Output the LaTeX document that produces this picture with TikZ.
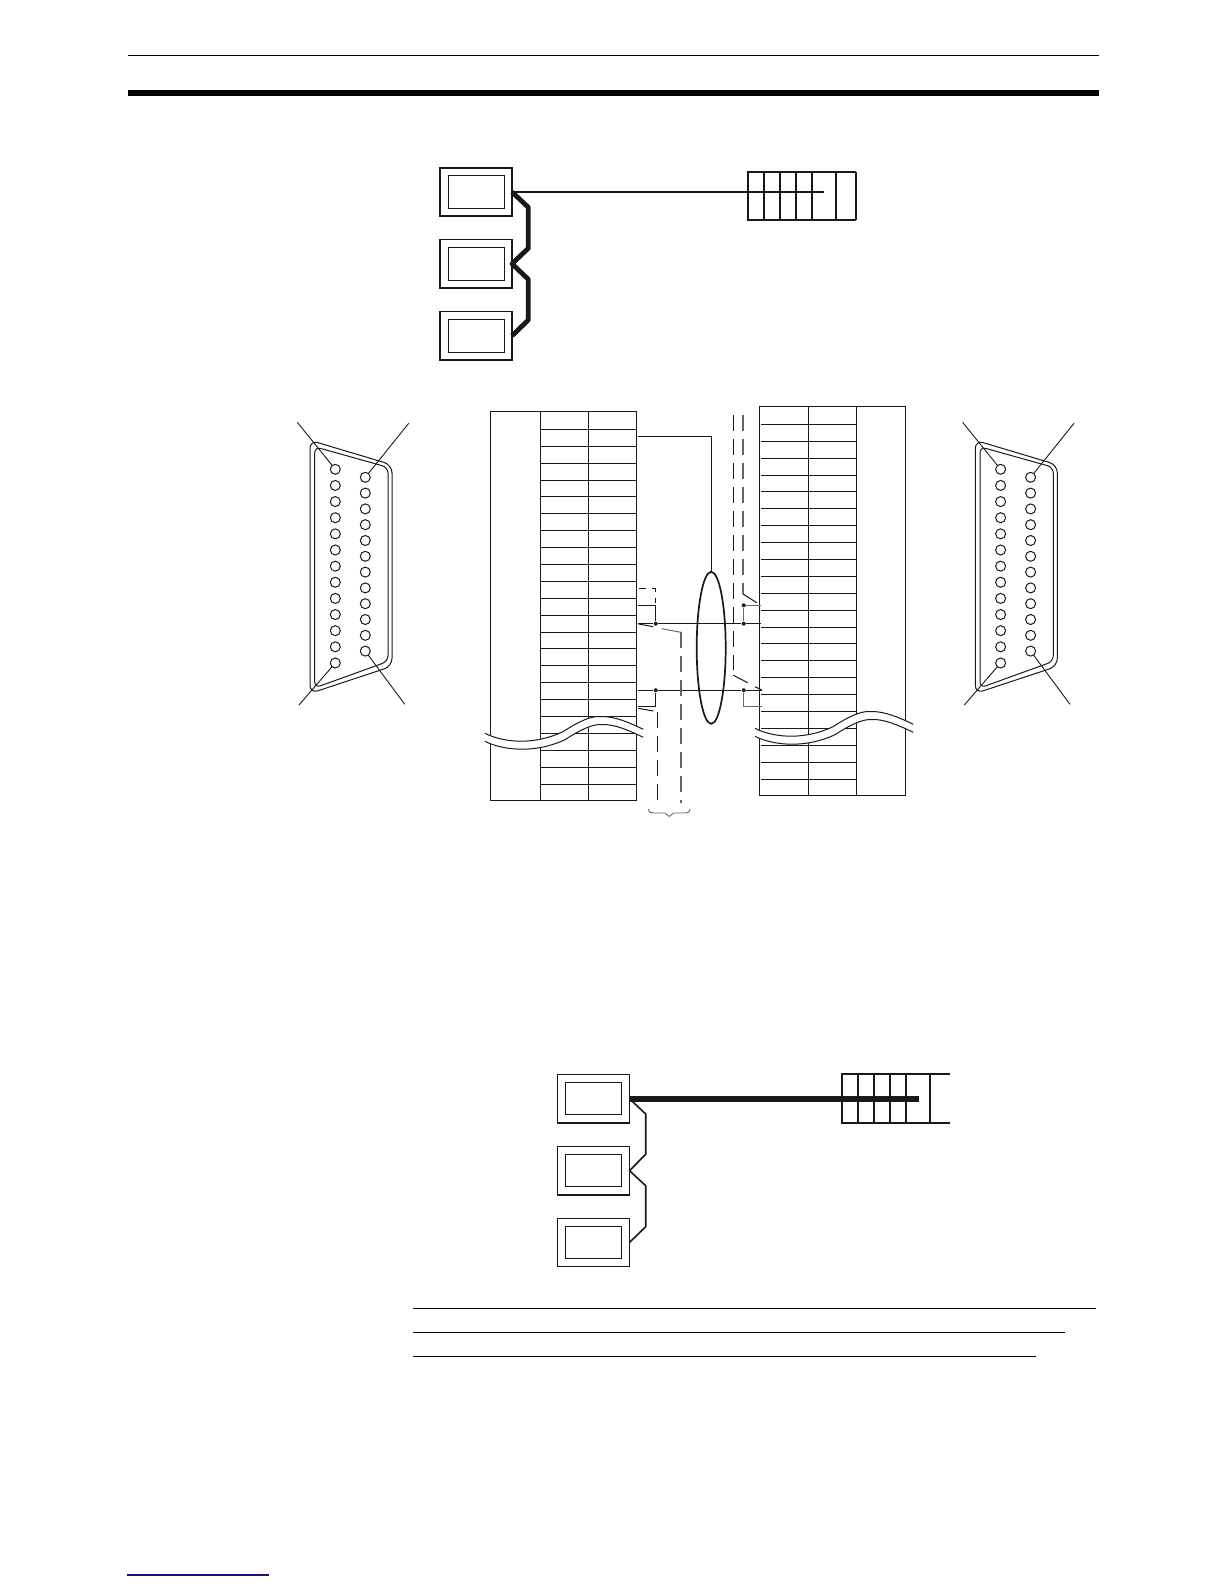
\documentclass[tikz,border=0pt]{standalone}
\usetikzlibrary{calc,shapes.geometric}
\definecolor{linkblue}{RGB}{20,20,120}
\definecolor{wire}{gray}{0.1}
\definecolor{wiregray}{gray}{0.4}
\newcommand{\shellshape}{%
  \draw[shell,rounded corners=4pt] (310,440.3) -- (392,464.8) -- (392,666.3) -- (310,693.4) -- cycle;
  \draw[shell,rounded corners=3pt] (314.7,446.8) -- (388,467.3) -- (388,661.4) -- (314.7,687.9) -- cycle;
}
\newcommand{\wavecut}{%
  \fill[white] (485,733.3) .. controls (500,741) and (530,747) .. (563,731.7)
     .. controls (578,722) and (590,716) .. (600,716.5) .. controls (615,716) and (630,723) .. (643.3,729.3)
     -- (643.3,737.3) .. controls (630,731) and (615,724) .. (602,724.5)
     .. controls (592,724) and (580,730) .. (565,739.7) .. controls (532,755) and (500,749) .. (485,741.3) -- cycle;
  \draw[waveline] (485,733.3) .. controls (500,741) and (530,747) .. (563,731.7)
     .. controls (578,722) and (590,716) .. (600,716.5) .. controls (615,716) and (630,723) .. (643.3,729.3);
  \draw[waveline] (485,741.3) .. controls (500,749) and (532,755) .. (565,739.7)
     .. controls (580,730) and (592,724) .. (602,724.5) .. controls (615,724) and (630,731) .. (643.3,737.3);
}
\tikzset{
  unit/.style={draw=wire,line width=0.75pt,inner sep=0pt,outer sep=0pt,minimum width=36pt,minimum height=24.2pt},
  screen/.style={draw=wire,line width=0.5pt,inner sep=0pt,outer sep=0pt,minimum width=28pt,minimum height=16.2pt},
  grid line/.style={draw=wire,line width=0.85pt},
  table line/.style={draw=wire,line width=0.55pt},
  thick cable/.style={draw=wire,line width=2.4pt,line join=round},
  thin cable/.style={draw=wire,line width=0.8pt,line join=round},
  fat cable/.style={draw=wire,line width=3pt},
  signal/.style={draw=wire,line width=0.5pt},
  shell/.style={draw=wire,line width=0.5pt},
  waveline/.style={draw=wire,line width=0.5pt},
  pinhole/.style={draw=wire,circle,line width=0.5pt,inner sep=0pt,outer sep=0pt,minimum size=5pt},
  leader/.style={draw=wire,line width=0.45pt},
  dot/.style={circle,fill=wire,inner sep=0pt,minimum size=2pt},
  longdash/.style={draw=wire,line width=0.5pt,dash pattern=on 8pt off 4pt},
  longdashgray/.style={draw=wiregray,line width=0.6pt,dash pattern=on 8pt off 4pt},
  rule/.style={draw=black,line width=0.65pt},
}
\begin{document}
\begin{tikzpicture}[x=0.5pt,y=-0.5pt]
\useasboundingbox (0,0) rectangle (1224,1584);
% page furniture
\coordinate (ra) at (128,55.3); \coordinate (rb) at (1099,55.3);
\coordinate (rc) at (128,93); \coordinate (rd) at (1099,93);
\draw[rule] (ra) -- (rb);
\draw[draw=black,line width=3pt] (rc) -- (rd);
\coordinate (n1a) at (413,1308.3); \coordinate (n1b) at (1096,1308.3);
\coordinate (n2a) at (413,1332.3); \coordinate (n2b) at (1065,1332.3);
\coordinate (n3a) at (413,1356.3); \coordinate (n3b) at (1036,1356.3);
\draw[rule] (n1a) -- (n1b);
\draw[rule] (n2a) -- (n2b);
\draw[rule] (n3a) -- (n3b);
\coordinate (fa) at (127,1575); \coordinate (fb) at (269,1575);
\draw[draw=linkblue,line width=0.7pt] (fa) -- (fb);

% top network
\foreach \n/\y in {1/192,2/263.8,3/335.8}{
  \node[unit] (t\n) at (476,\y) {};
  \node[screen] (ts\n) at (476.3,\y) {};
}
\foreach \x in {747.7,763.7,780,796,812.3,836,856}{
  \draw[grid line] (\x,171.7) -- (\x,220);
}
\draw[grid line] (747.3,171.7) -- (856.4,171.7);
\draw[grid line] (747.3,220) -- (856.4,220);
\coordinate (tend) at (824,192);
\draw[draw=wire,line width=0.8pt] (t1.east) -- (tend);
\draw[thick cable] (t1.east) -- (528.3,207.3) -- (528.3,248.3) -- (t2.east) -- (528.3,279.3) -- (528.3,320) -- (t3.east);

% left D-sub
\shellshape
\foreach \i in {0,...,12}{ \node[pinhole] (pa\i) at (335.3,469.3+16.14*\i) {}; }
\foreach \i in {0,...,11}{ \node[pinhole] (pb\i) at (365.3,477.3+15.8*\i) {}; }
\coordinate (la) at (297.3,422.3); \coordinate (lb) at (408.7,423.3);
\coordinate (lc) at (299,705); \coordinate (ld) at (404.7,704.3);
\draw[leader] (la) -- (pa0);
\draw[leader] (lb) -- (pb0);
\draw[leader] (lc) -- (pa12);
\draw[leader] (ld) -- (pb11);

% right D-sub
\begin{scope}[shift={(665.3,0)}]
\shellshape
\foreach \i in {0,...,12}{ \node[pinhole] (qa\i) at (335.3,469.3+16.14*\i) {}; }
\foreach \i in {0,...,11}{ \node[pinhole] (qb\i) at (365.3,477.3+15.8*\i) {}; }
\coordinate (ma) at (297.3,422.3); \coordinate (mb) at (408.7,423.3);
\coordinate (mc) at (299,705); \coordinate (md) at (404.7,704.3);
\draw[leader] (ma) -- (qa0);
\draw[leader] (mb) -- (qb0);
\draw[leader] (mc) -- (qa12);
\draw[leader] (md) -- (qb11);
\end{scope}

% left pin table
\draw[table line] (490.7,411.3) rectangle (636.3,800.3);
\draw[table line] (540.7,411.3) -- (540.7,800.3);
\draw[table line] (588.3,411.3) -- (588.3,800.3);
\foreach \y in {429.3,446.3,463.3,480.3,496.3,513.3,530.3,547.3,564.3,581.3,598.3,615.3,632.3,648.3,665.3,682.3,699.3,716.3,733.3,750.3,767.3,784.3}{
  \draw[table line] (540.7,\y) -- (636.3,\y);
}
\wavecut

% right pin table
\draw[table line] (759.7,406.3) rectangle (905.7,795.3);
\draw[table line] (808.3,406.3) -- (808.3,795.3);
\draw[table line] (856.3,406.3) -- (856.3,795.3);
\foreach \y in {424.3,441.3,458.3,475.3,491.3,508.3,525.3,542.3,559.3,576.3,593.3,610.3,627.3,643.3,660.3,677.3,694.3,711.3,728.3,745.3,762.3,779.3}{
  \draw[table line] (761,\y) -- (856.3,\y);
}
\begin{scope}[shift={(270,-5)}]
\wavecut
\end{scope}

% shield ellipse
\node[draw=wire,ellipse,line width=0.85pt,inner sep=0pt,outer sep=0pt,minimum width=14.5pt,minimum height=76pt] (shieldloop) at (711.2,647.8) {};

% shield wire
\coordinate (sa) at (638.3,436.3);
\draw[signal] (sa) -- (711.2,436.3) -- (shieldloop.north);

% signal wires
\node[dot] (d1) at (655.7,623.7) {};
\node[dot] (d2) at (655.7,690.2) {};
\node[dot] (d3) at (743.7,623.7) {};
\node[dot] (d4) at (743.7,605.3) {};
\node[dot] (d5) at (743.7,690.2) {};
\coordinate (e1) at (638.3,623.7); \coordinate (e2) at (761,623.7);
\coordinate (e3) at (638,605.5); \coordinate (e4) at (761,605.3);
\coordinate (e5) at (638.3,690.2); \coordinate (e6) at (761.7,690.2);
\coordinate (e7) at (638.3,706); \coordinate (e8) at (761.7,706);
\draw[signal] (e1) -- (d1) -- (d3) -- (e2);
\draw[signal] (e5) -- (d2) -- (d5) -- (e6);
\draw[signal] (e3) -- (655.7,605.5) -- (d1);
\draw[signal] (d2) -- (655.7,706) -- (e7);
\draw[signal,draw=wiregray] (e4) -- (d4) -- (d3);
\draw[signal,draw=wiregray] (d5) -- (743.7,706) -- (e8);

% dashed return wires, left
\coordinate (g1) at (639,588.3); \coordinate (g2) at (655.7,603.3);
\draw[signal,dash pattern=on 3.5pt off 3pt] (g1) -- (655.7,588.3) -- (g2);
\coordinate (g3) at (638.3,623.9); \coordinate (g4) at (653.3,626.7);
\coordinate (g5) at (661.7,628.7); \coordinate (g6) at (681,632.3);
\coordinate (g7) at (681,803.3);
\draw[signal] (g3) -- (g4);
\draw[signal,draw=wiregray] (g5) -- (g6);
\draw[longdashgray] (g6) -- (g7);
\coordinate (g8) at (638.3,708.3); \coordinate (g9) at (653.3,711);
\coordinate (g10) at (657.7,711.7); \coordinate (g11) at (657.7,800);
\draw[signal] (g8) -- (g9);
\draw[longdash] (g10) -- (g11);

% dashed return wires, right
\coordinate (h1) at (733.3,415); \coordinate (h2) at (733.3,670);
\coordinate (h3) at (743,415); \coordinate (h4) at (743,594);
\coordinate (h5) at (756.7,602.7);
\draw[longdash] (h1) -- (h2);
\draw[longdashgray] (h3) -- (h4);
\draw[signal] (h4) -- (h5);
\coordinate (h6) at (733.3,675.3); \coordinate (h7) at (747.7,682.7);
\coordinate (h8) at (755,686.7); \coordinate (h9) at (761.7,690);
\draw[signal] (h6) -- (h7);
\draw[signal] (h8) -- (h9);

% brace
\coordinate (b1) at (648.3,809.3); \coordinate (b2) at (690,809.3);
\draw[draw=wiregray,line width=0.45pt] (b1) .. controls (649,812) and (650,813) .. (653,813) -- (665,813) -- (669.3,816.5) -- (673.5,813) -- (685.5,813) .. controls (688.5,813) and (689.5,812) .. (b2);

% bottom network
\foreach \n/\y in {1/1098.7,2/1170.7,3/1242.5}{
  \node[unit,minimum height=24.2pt] (u\n) at (593.5,\y) {};
  \node[screen] (us\n) at (593.5,\y) {};
}
\foreach \x in {841.7,858,874,890,906,930}{
  \draw[grid line] (\x,1074.3) -- (\x,1123);
}
\draw[grid line] (841.3,1074.3) -- (950,1074.3);
\draw[grid line] (841.3,1123) -- (950,1123);
\coordinate (uend) at (919,1098.7);
\draw[fat cable] (u1.east) -- (uend);
\draw[thin cable] (u1.east) -- (645.7,1114) -- (645.7,1154.3) -- (u2.east) -- (645.7,1185.7) -- (645.7,1226.7) -- (u3.east);
\end{tikzpicture}
\end{document}
